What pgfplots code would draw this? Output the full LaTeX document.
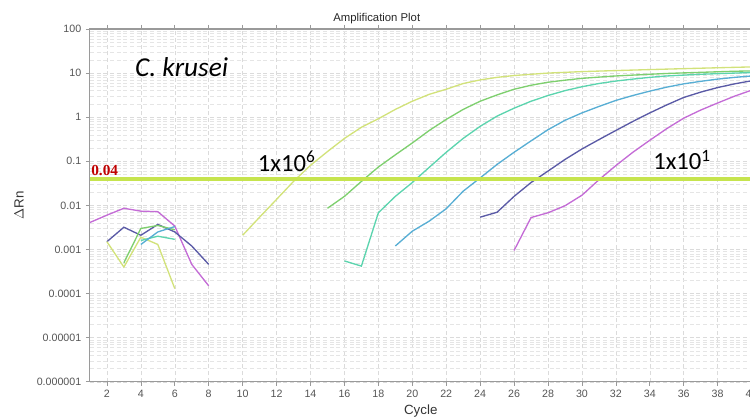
\documentclass[border=0pt]{standalone}
\usepackage{pgfplots}
\pgfplotsset{compat=1.18}
\usepackage{fontspec}
\setmainfont{Liberation Sans}
\newfontfamily\annofont{Carlito}
\newfontfamily\thrfont{Liberation Serif}

\definecolor{cA}{HTML}{D2E27A}
\definecolor{cB}{HTML}{7ECF6E}
\definecolor{cC}{HTML}{5CD4AE}
\definecolor{cD}{HTML}{58AED4}
\definecolor{cE}{HTML}{5A5AA6}
\definecolor{cF}{HTML}{C46CD6}
\definecolor{thr}{HTML}{C6E44E}
\definecolor{tickgray}{HTML}{555555}
\definecolor{framegray}{HTML}{9A9A9A}
\definecolor{thrred}{HTML}{C00000}

\begin{document}
\begin{tikzpicture}
\begin{axis}[
  name=ax,
  scale only axis,
  width=496.5pt, height=264.75pt,
  xmin=1, xmax=40,
  ymode=log, log basis y=10,
  ymin=1e-6, ymax=100,
  xtick={2,4,...,40},
  ytick={1e-6,1e-5,1e-4,1e-3,1e-2,1e-1,1,10,100},
  yticklabels={0.000001,0.00001,0.0001,0.001,0.01,0.1,1,10,100},
  minor ytick={2e-6,3e-6,4e-6,5e-6,6e-6,7e-6,8e-6,9e-6,
               2e-5,3e-5,4e-5,5e-5,6e-5,7e-5,8e-5,9e-5,
               2e-4,3e-4,4e-4,5e-4,6e-4,7e-4,8e-4,9e-4,
               2e-3,3e-3,4e-3,5e-3,6e-3,7e-3,8e-3,9e-3,
               0.02,0.03,0.04,0.05,0.06,0.07,0.08,0.09,
               0.2,0.3,0.4,0.5,0.6,0.7,0.8,0.9,
               2,3,4,5,6,7,8,9,
               20,30,40,50,60,70,80,90},
  /pgf/number format/assume math mode=true,
  tick label style={font=\fontsize{8}{9}\selectfont, text=tickgray},
  tick align=outside,
  major tick length=3pt,
  minor tick length=0pt,
  tick style={framegray, line width=0.5pt},
  axis line style={framegray, line width=0.8pt},
  xmajorgrids, ymajorgrids, yminorgrids,
  major grid style={densely dashed, gray!28, line width=0.4pt},
  minor grid style={densely dashed, gray!20, line width=0.3pt},
  title={Amplification Plot},
  title style={at={(0.4335,1)}, anchor=south, inner sep=0pt, yshift=-2.5pt,
               font=\fontsize{8.5}{10}\selectfont, text=black!85},
  xlabel={Cycle},
  xlabel style={at={(axis description cs:0.5,0)}, anchor=center, yshift=-22.3pt,
                font=\fontsize{10}{12}\selectfont, text=black!80},
  ylabel={$\Delta$Rn},
  ylabel style={at={(axis description cs:-0.107,0.5)}, anchor=center,
                font=\fontsize{10}{12}\selectfont, text=black!80},
  every axis plot/.append style={line width=1pt, mark=none},
]

% early-cycle noise segments
\addplot[cF] coordinates {(1,0.0041) (2,0.006) (3,0.0086) (4,0.0074) (5,0.0072) (6,0.0034) (7,0.00046) (8,0.00015)};
\addplot[cE] coordinates {(2,0.0015) (3,0.0032) (4,0.0021) (5,0.0037) (6,0.0025) (7,0.0012) (8,0.00046)};
\addplot[cA] coordinates {(2,0.0015) (3,0.0004) (4,0.0019) (5,0.0013) (6,0.00013)};
\addplot[cB] coordinates {(3,0.0005) (4,0.003) (5,0.0035) (6,0.0028)};
\addplot[cC] coordinates {(4,0.0016) (5,0.0020) (6,0.0017)};
\addplot[cD] coordinates {(4,0.0013) (5,0.0025) (6,0.0033)};

% amplification curves, 1x10^6 down to 1x10^1
\addplot[cA] coordinates {(10,0.0021) (11,0.0054) (12,0.0137) (13,0.035) (14,0.081) (15,0.166) (16,0.33) (17,0.59) (18,0.92) (19,1.5) (20,2.3) (21,3.3) (22,4.3) (23,5.8) (24,7.0) (25,8.0) (26,8.8) (27,9.4) (28,10.0) (29,10.4) (30,10.8) (31,11.1) (32,11.4) (33,11.7) (34,12.0) (35,12.3) (36,12.6) (37,12.9) (38,13.2) (39,13.5) (40,13.8)};
\addplot[cB] coordinates {(15,0.0086) (16,0.016) (17,0.035) (18,0.074) (19,0.14) (20,0.26) (21,0.5) (22,0.89) (23,1.5) (24,2.3) (25,3.2) (26,4.3) (27,5.3) (28,6.2) (29,6.9) (30,7.6) (31,8.1) (32,8.6) (33,9.0) (34,9.4) (35,9.8) (36,10.1) (37,10.4) (38,10.7) (39,11.0) (40,11.2)};
\addplot[cC] coordinates {(16,0.00055) (17,0.00042) (18,0.0068) (19,0.016) (20,0.033) (21,0.073) (22,0.16) (23,0.33) (24,0.62) (25,1.06) (26,1.6) (27,2.3) (28,3.1) (29,4.0) (30,4.9) (31,5.8) (32,6.6) (33,7.3) (34,8.0) (35,8.6) (36,9.0) (37,9.4) (38,9.7) (39,10.0) (40,10.3)};
\addplot[cD] coordinates {(19,0.0012) (20,0.0026) (21,0.0044) (22,0.0084) (23,0.021) (24,0.042) (25,0.085) (26,0.16) (27,0.29) (28,0.52) (29,0.85) (30,1.25) (31,1.75) (32,2.4) (33,3.1) (34,3.9) (35,4.8) (36,5.7) (37,6.5) (38,7.3) (39,8.0) (40,8.6)};
\addplot[cE] coordinates {(24,0.0054) (25,0.007) (26,0.016) (27,0.033) (28,0.06) (29,0.11) (30,0.19) (31,0.31) (32,0.5) (33,0.8) (34,1.25) (35,1.9) (36,2.8) (37,3.7) (38,4.7) (39,5.7) (40,6.7)};
\addplot[cF] coordinates {(26,0.00095) (27,0.0053) (28,0.0068) (29,0.0098) (30,0.017) (31,0.038) (32,0.08) (33,0.16) (34,0.3) (35,0.55) (36,0.95) (37,1.45) (38,2.1) (39,3.0) (40,4.1)};

% threshold
\addplot[thr, line width=3pt] coordinates {(1,0.04) (40,0.04)};

\node[anchor=base west, inner sep=0pt, xshift=0.8pt, yshift=2.2pt, text=thrred,
      font=\thrfont\bfseries\fontsize{11.5}{13}\selectfont] at (axis cs:1,0.04) {0.04};
\node[font=\annofont\itshape\fontsize{20.5}{24}\selectfont] at (axis cs:6.4,13.5) {C. krusei};
\node[font=\annofont\fontsize{18.5}{22}\selectfont] at (axis cs:12.6,0.1) {1x10\textsuperscript{6}};
\node[font=\annofont\fontsize{18.5}{22}\selectfont] at (axis cs:35.9,0.105) {1x10\textsuperscript{1}};
\end{axis}
\pgfresetboundingbox
\path[use as bounding box] ([shift={(-67.5pt,-27pt)}]ax.south west) rectangle ([shift={(-1.2pt,21.75pt)}]ax.north east);
\end{tikzpicture}
\end{document}
